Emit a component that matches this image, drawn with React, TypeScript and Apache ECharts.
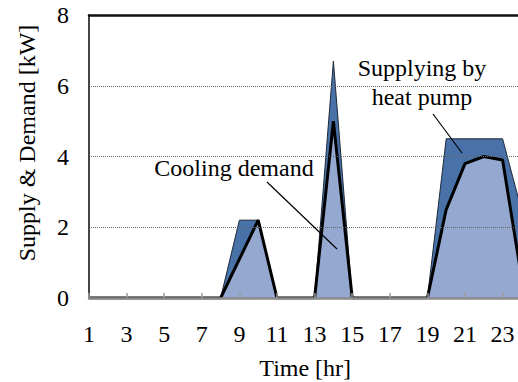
import React, { useEffect, useRef } from "react";
import * as echarts from "echarts";

const hours: string[] = [
  "1", "2", "3", "4", "5", "6", "7", "8", "9", "10", "11", "12",
  "13", "14", "15", "16", "17", "18", "19", "20", "21", "22", "23", "24",
];
const supplyHP: number[] = [
  0, 0, 0, 0, 0, 0, 0, 0, 2.2, 2.2, 0, 0,
  0, 6.7, 0, 0, 0, 0, 0, 4.5, 4.5, 4.5, 4.5, 2.5,
];
const coolingDemand: number[] = [
  0, 0, 0, 0, 0, 0, 0, 0, 1.1, 2.2, 0, 0,
  0, 5.0, 0, 0, 0, 0, 0, 2.5, 3.8, 4.0, 3.9, 0.6,
];
const yTicks = { min: 0, max: 8, interval: 2 };

const FONT = "Times New Roman, Liberation Serif, DejaVu Serif, serif";

export default function App() {
  const ref = useRef<HTMLDivElement>(null);
  useEffect(() => {
    if (!ref.current) return;
    const chart = echarts.init(ref.current, null, { renderer: "svg" });
    const ts = { fontSize: 24, fontFamily: FONT, color: "#000" };
    chart.setOption({
      animation: false,
      backgroundColor: "#ffffff",
      textStyle: { fontFamily: FONT },
      grid: {
        left: 89,
        top: 15,
        width: 432.4,
        height: 283,
        containLabel: false,
        outerBoundsMode: "none",
      },
      xAxis: [
        {
          type: "category",
          data: hours,
          boundaryGap: false,
          position: "bottom",
          z: 10,
          axisLine: { show: true, lineStyle: { color: "#8a8a8a", width: 2.5 } },
          axisTick: {
            show: true,
            inside: true,
            length: 5,
            interval: 1,
            lineStyle: { color: "#9a9a9a", width: 1.5 },
          },
          axisLabel: { interval: 1, margin: 24, ...ts },
          splitLine: { show: false },
          name: "Time [hr]",
          nameLocation: "middle",
          nameGap: 58,
          nameTextStyle: ts,
        },
        {
          type: "category",
          data: hours,
          boundaryGap: false,
          position: "top",
          z: 10,
          axisLine: { show: true, lineStyle: { color: "#111", width: 2.5 } },
          axisTick: { show: false },
          axisLabel: { show: false },
          splitLine: { show: false },
        },
      ],
      yAxis: {
        type: "value",
        min: yTicks.min,
        max: yTicks.max,
        interval: yTicks.interval,
        z: 10,
        axisLine: { show: true, lineStyle: { color: "#444", width: 2 } },
        axisTick: { show: false },
        axisLabel: { margin: 20, ...ts },
        splitLine: { show: true, lineStyle: { color: "#666", type: "dotted", width: 1 } },
      },
      series: [
        {
          name: "Supplying by heat pump",
          type: "line",
          data: supplyHP,
          symbol: "none",
          z: 2,
          lineStyle: { color: "#1e2a3a", width: 1 },
          areaStyle: { color: "#4872A8", opacity: 1 },
        },
        {
          name: "Cooling demand",
          type: "line",
          data: coolingDemand,
          symbol: "none",
          z: 3,
          lineStyle: { color: "#000", width: 3 },
          areaStyle: { color: "#95A8D0", opacity: 1 },
        },
      ],
      graphic: [
        {
          type: "text",
          x: 27,
          y: 143,
          rotation: Math.PI / 2,
          z: 100,
          style: {
            text: "Supply & Demand [kW]",
            fontSize: 24,
            fontFamily: FONT,
            fill: "#000",
            align: "center",
            verticalAlign: "middle",
          },
        },
        {
          type: "text",
          x: 234,
          y: 168,
          z: 100,
          style: {
            text: "Cooling demand",
            fontSize: 24,
            fontFamily: FONT,
            fill: "#000",
            align: "center",
            verticalAlign: "middle",
          },
        },
        {
          type: "line",
          z: 100,
          shape: { x1: 267, y1: 182, x2: 337, y2: 249 },
          style: { stroke: "#000", lineWidth: 1.2 },
        },
        {
          type: "text",
          x: 422,
          y: 68,
          z: 100,
          style: {
            text: "Supplying by",
            fontSize: 24,
            fontFamily: FONT,
            fill: "#000",
            align: "center",
            verticalAlign: "middle",
          },
        },
        {
          type: "text",
          x: 422,
          y: 97,
          z: 100,
          style: {
            text: "heat pump",
            fontSize: 24,
            fontFamily: FONT,
            fill: "#000",
            align: "center",
            verticalAlign: "middle",
          },
        },
        {
          type: "line",
          z: 100,
          shape: { x1: 433, y1: 114, x2: 462, y2: 153 },
          style: { stroke: "#000", lineWidth: 1.2 },
        },
      ],
    });
    return () => chart.dispose();
  }, []);
  return (
    <div
      ref={ref}
      style={{ position: "fixed", left: 0, top: 0, width: 518, height: 382, background: "#fff" }}
    />
  );
}
